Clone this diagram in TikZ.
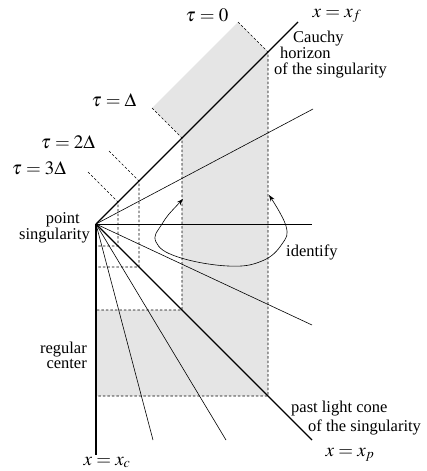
\documentclass[tikz,border=0pt]{standalone}
\usepackage{mathptmx}
\usepackage{fontspec}
\setmainfont{Liberation Serif}
\usetikzlibrary{arrows.meta}
\begin{document}
\begin{tikzpicture}[x=1pt,y=-1pt,
  thickline/.style={line width=1.1pt},
  thinline/.style={line width=0.6pt},
  dsh/.style={line width=0.6pt,dash pattern=on 2.5pt off 2pt},
  shadefill/.style={fill=black!10},
  lbl/.style={font=\fontsize{16.5}{18}\selectfont,inner sep=0pt},
  mlbl/.style={font=\fontsize{19}{21}\selectfont,inner sep=0pt},
  idarrow/.style={line width=0.6pt,{Stealth[length=6.5pt,width=4.5pt]}-{Stealth[length=6.5pt,width=4.5pt]}}]
\useasboundingbox (0,0) rectangle (427,471);
% key points
\coordinate (S) at (96,224);
\coordinate (F) at (298,22);
\coordinate (P) at (312,440);
\coordinate (C) at (96,455);
\coordinate (U) at (313,109);
\coordinate (H) at (312,224);
\coordinate (L) at (312,325);
\coordinate (D1) at (153,440);
\coordinate (D2) at (226,440);
% shading
\fill[shadefill] (238,22) -- (268,52) -- (268,396) -- (96,396) -- (96,310) -- (182,310) -- (182,138) -- (152,108) -- cycle;
% dashed constant-tau lines
\foreach \d in {22,43,86,172} {
  \draw[dsh] (96+\d-30,224-\d-30) -- (96+\d,224-\d) -- (96+\d,224+\d) -- (96,224+\d);
}
% lines from the singularity
\draw[thinline] (S) -- (U);
\draw[thinline] (S) -- (H);
\draw[thinline] (S) -- (L);
\draw[thinline] (S) -- (D1);
\draw[thinline] (S) -- (D2);
\draw[thickline] (S) -- (F);
\draw[thickline] (S) -- (P);
\draw[thickline] (S) -- (C);
% identify arrows
\draw[idarrow] plot[smooth,tension=0.7] coordinates {(183,199) (162,224) (156,242) (178,257) (228,266) (262,261) (282,244) (286,226) (269,195)};
% labels
\node[mlbl,anchor=base] (t0) at (207,21) {$\tau=0$};
\node[mlbl,anchor=base] (t1) at (114,106) {$\tau=\Delta$};
\node[mlbl,anchor=base] (t2) at (68,148) {$\tau=2\Delta$};
\node[mlbl,anchor=base] (t3) at (39,174) {$\tau=3\Delta$};
\node[mlbl,anchor=base] (xf) at (337,17) {$x=x_f$};
\node[mlbl,anchor=base] (xp) at (350,456) {$x=x_p$};
\node[mlbl,anchor=base] (xc) at (107,465) {$x=x_c$};
\node[lbl,anchor=base west] (ca1) at (293,42) {Cauchy};
\node[lbl,anchor=base west] (ca2) at (280,58) {horizon};
\node[lbl,anchor=base west] (ca3) at (274,74) {of the singularity};
\node[lbl,anchor=base east] (ps1) at (80,223) {point};
\node[lbl,anchor=base east] (ps2) at (90,239) {singularity};
\node[lbl,anchor=base west] (id) at (286,256) {identify};
\node[lbl,anchor=base east] (rc1) at (87,353) {regular};
\node[lbl,anchor=base east] (rc2) at (87,368) {center};
\node[lbl,anchor=base west] (pl1) at (291,412) {past light cone};
\node[lbl,anchor=base west] (pl2) at (308,431) {of the singularity};
\end{tikzpicture}
\end{document}
